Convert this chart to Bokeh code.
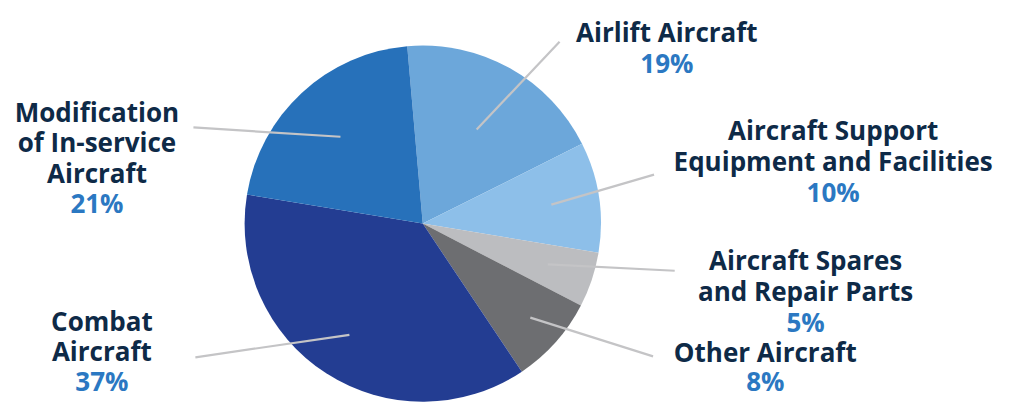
import math
from bokeh.plotting import figure
from bokeh.models import Range1d, ColumnDataSource
from bokeh.core.properties import value
from bokeh.embed import file_html
from bokeh.resources import INLINE

# ---- data ----
categories = ["Airlift Aircraft", "Aircraft Support Equipment and Facilities",
              "Aircraft Spares and Repair Parts", "Other Aircraft",
              "Combat Aircraft", "Modification of In-service Aircraft"]
shares = [19, 10, 5, 8, 37, 21]
label_lines = [["Airlift Aircraft"],
               ["Aircraft Support", "Equipment and Facilities"],
               ["Aircraft Spares", "and Repair Parts"],
               ["Other Aircraft"],
               ["Combat", "Aircraft"],
               ["Modification", "of In-service", "Aircraft"]]
pct_labels = [f"{v}%" for v in shares]

# ---- style / layout ----
colors = ["#6CA7DA", "#8DBFE9", "#BCBDC0", "#6D6E71", "#233D92", "#2771BA"]
NAVY = "#0E2A47"
BLUE = "#2B78C2"
GRAY = "#C4C4C6"
FONT = "Open Sans"
FS = "26px"

W, H = 1001, 402          # figure size in screen pixels
RW, RH = 1017, 418        # layout coordinate space
def X(px): return px
def Y(py): return RH - py

cx, cy, R = X(429), Y(232), 181
start_deg = -5.0
label_x = [677, 846, 818, 777, 103, 98]
label_first_baseline = [33, 135, 270, 366, 333, 116]
line_h = [32, 32, 32, 30, 31.5, 31.5]
leader_outer = [(568, 43), (664, 181), (685, 281), (663, 370), (198, 371), (196, 132)]
leader_inner_frac = [0.62, 0.73, 0.74, 0.81, 0.76, 0.68]

p = figure(width=W, height=H, x_range=Range1d(0, RW), y_range=Range1d(0, RH),
           output_backend="svg", toolbar_location=None, min_border=0)
p.axis.visible = False
p.grid.visible = False
p.outline_line_color = None
p.background_fill_color = "white"

total = sum(shares)
starts, ends, mids = [], [], []
acc = start_deg
for v in shares:
    a0 = acc
    a1 = acc + 360.0 * v / total
    starts.append(math.radians(90 - a0))
    ends.append(math.radians(90 - a1))
    mids.append((a0 + a1) / 2)
    acc = a1

src = ColumnDataSource(dict(start=starts, end=ends, color=colors, cat=categories))
p.wedge(x=cx, y=cy, radius=R, start_angle="start", end_angle="end",
        direction="clock", fill_color="color", line_color=None, source=src)

# leader lines
xs, ys = [], []
for m, frac, (ox, oy) in zip(mids, leader_inner_frac, leader_outer):
    ix = cx + frac * R * math.sin(math.radians(m))
    iy = cy + frac * R * math.cos(math.radians(m))
    xs.append([ix, X(ox)])
    ys.append([iy, Y(oy)])
p.multi_line(xs=xs, ys=ys, line_color=GRAY, line_width=2.2)

# labels
tx, ty, tt, px_, py_, pt = [], [], [], [], [], []
for lines, lx, b0, lh, pc in zip(label_lines, label_x, label_first_baseline, line_h, pct_labels):
    for i, ln in enumerate(lines):
        tx.append(X(lx)); ty.append(Y(b0 + i * lh)); tt.append(ln)
    px_.append(X(lx)); py_.append(Y(b0 + len(lines) * lh)); pt.append(pc)

p.text(x=tx, y=ty, text=tt, text_align="center", text_baseline="alphabetic",
       text_font=value(FONT), text_font_style="bold", text_font_size=FS,
       text_color=NAVY)
p.text(x=px_, y=py_, text=pt, text_align="center", text_baseline="alphabetic",
       text_font=value(FONT), text_font_style="bold", text_font_size=FS,
       text_color=BLUE)

open("out.html", "w").write(file_html(p, INLINE))
